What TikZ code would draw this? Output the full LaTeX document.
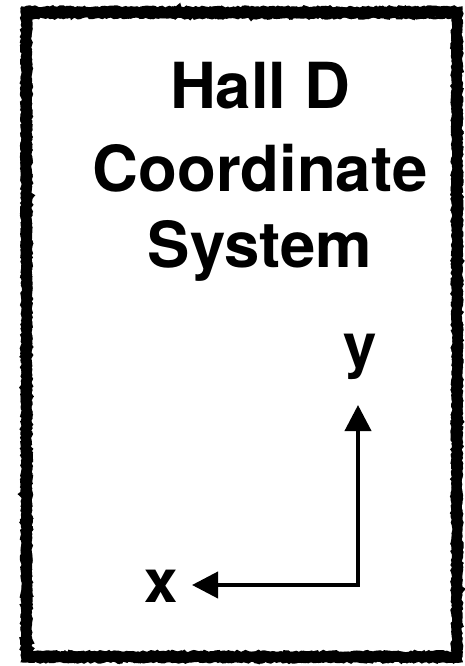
\documentclass[tikz,border=0pt]{standalone}
\usepackage{fontspec}
\setmainfont{TeX Gyre Heros}
\usetikzlibrary{arrows.meta,decorations.pathmorphing}
\begin{document}
\begin{tikzpicture}[x=1pt,y=-1pt,
  title/.style={anchor=base,inner sep=0pt,font=\bfseries\fontsize{63.5}{63.5}\selectfont},
  axislabel/.style={anchor=base,inner sep=0pt,font=\bfseries\fontsize{60}{60}\selectfont},
  axis/.style={line width=4pt,line join=miter,
    {Triangle[length=26pt,width=26pt]}-{Triangle[length=26pt,width=26pt]}},
  rough/.style={line width=#1,decorate,decoration={random steps,segment length=2.5pt,amplitude=1.2pt}}]
\useasboundingbox (0,0) rectangle (465,666);
\fill[white] (0,0) rectangle (465,666);
% rough frame
\pgfmathsetseed{11}
\draw[rough=10pt] (26.5,12.5) -- (457,12.5) -- (457,657) -- (26.5,657) -- cycle;
\draw[rough=3pt] (22.5,8) -- (461,8) -- (461,661) -- (22.5,661) -- cycle;
\draw[rough=3pt] (30.5,17) -- (453,17) -- (453,652.5) -- (30.5,652.5) -- cycle;
% title
\node[title] (t1) at (260,109) {Hall D};
\node[title] (t2) at (260,191) {Coordinate};
\node[title] (t3) at (260,267) {System};
% axes
\coordinate (corner) at (358,585);
\coordinate (ytip) at (358,405);
\coordinate (xtip) at (192,585);
\draw[axis] (xtip) -- (corner) -- (ytip);
\node[axislabel] (ylab) at (360,366) {y};
\node[axislabel] (xlab) at (161,602) {x};
\end{tikzpicture}
\end{document}
